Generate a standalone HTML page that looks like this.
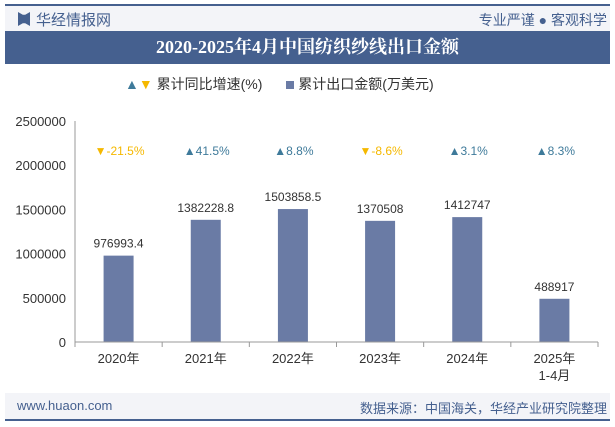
<!DOCTYPE html>
<html><head><meta charset="utf-8"><style>
body{margin:0;width:615px;height:427px;background:#fff;font-family:"Liberation Sans","Noto Sans CJK SC",sans-serif;position:relative;overflow:hidden}
.abs{position:absolute}
</style></head><body>
<div class="abs" style="left:5px;top:4px;width:605px;height:2px;background:#45608f"></div>
<div class="abs" style="left:5px;top:6px;width:605px;height:25px;background:#f3f4f8"></div>
<div class="abs" style="left:18px;top:12px;width:12px;height:14px;background:#45608f;clip-path:polygon(0 0,40% 20%,60% 20%,100% 0,100% 100%,60% 80%,40% 80%,0 100%)"></div>
<div class="abs" style="left:36px;top:9px;font-size:15px;color:#45608f">华经情报网</div>
<div class="abs" style="right:8px;top:10px;font-size:14px;color:#45608f">专业严谨 ● 客观科学</div>
<div class="abs" style="left:5px;top:31px;width:605px;height:33px;background:#45608f;color:#fff;font-family:'Liberation Serif','Noto Serif CJK SC',serif;font-weight:bold;font-size:18px;line-height:33px;text-align:center">2020-2025年4月中国纺织纱线出口金额</div>
<div class="abs" style="left:125px;top:74px;font-size:14px;color:#333;white-space:nowrap">
<span><span style="color:#3e7a9a;font-size:14px">▲</span><span style="color:#f5b800;font-size:14px">▼</span> 累计同比增速(%)</span>
<span style="margin-left:20px"><span style="display:inline-block;width:8px;height:8px;background:#6a7ba5;margin-right:4px"></span>累计出口金额(万美元)</span>
</div>
<svg class="abs" style="left:0;top:0" width="615" height="427">
<g id="yax"></g><g id="bars"></g><g id="xax"></g>
</svg>
<div class="abs" style="left:5px;top:393px;width:605px;height:26px;background:#f3f4f8"></div>
<div class="abs" style="left:5px;top:419px;width:605px;height:2px;background:#45608f"></div>
<div class="abs" style="left:17px;top:398px;font-size:13px;color:#45608f">www.huaon.com</div>
<div class="abs" style="right:8px;top:398px;font-size:13px;color:#45608f">数据来源：中国海关，华经产业研究院整理</div>
<script>
const categories=["2020年","2021年","2022年","2023年","2024年","2025年\n1-4月"];
const amounts=[976993.4,1382228.8,1503858.5,1370508,1412747,488917];
const amountLabels=["976993.4","1382228.8","1503858.5","1370508","1412747","488917"];
const growth=[-21.5,41.5,8.8,-8.6,3.1,8.3];
const yTicks=[0,500000,1000000,1500000,2000000,2500000];
const NS="http://www.w3.org/2000/svg";
const x0=75,x1=598,yb=342,yt=121,ymax=2500000;
const band=(x1-x0)/categories.length;
const xc=i=>x0+band*(i+0.5);
const y=v=>yb-(v/ymax)*(yb-yt);
function mk(t,a,p){const e=document.createElementNS(NS,t);for(const k in a)e.setAttribute(k,a[k]);p.appendChild(e);return e;}
const yax=document.getElementById('yax'),bars=document.getElementById('bars'),xax=document.getElementById('xax');
yTicks.forEach(v=>{const t=mk('text',{x:66,y:y(v)+5,'text-anchor':'end','font-size':13,fill:'#333'},yax);t.textContent=v;

});
mk('line',{x1:x0,x2:x0,y1:yt,y2:yb,stroke:'#999'},yax);
mk('line',{x1:x0,x2:x1,y1:yb,y2:yb,stroke:'#999'},xax);
categories.forEach((c,i)=>{
 mk('line',{x1:x0+band*i,x2:x0+band*i,y1:yb,y2:yb+5,stroke:'#999'},xax);
 c.split("\n").forEach((s,j)=>{const t=mk('text',{x:xc(i),y:yb+21+j*17,'text-anchor':'middle','font-size':13,fill:'#333'},xax);t.textContent=s;
 
 });
 const r=mk('rect',{x:xc(i)-15,y:y(amounts[i]),width:30,height:yb-y(amounts[i]),fill:'#6a7ba5'},bars);
 
 
 const l=mk('text',{x:xc(i),y:y(amounts[i])-8,'text-anchor':'middle','font-size':12,fill:'#333'},bars);l.textContent=amountLabels[i];
 
 
 const up=growth[i]>=0;
 const g=mk('text',{x:xc(i)+1,y:155,'text-anchor':'middle','font-size':12,fill:up?'#3e7a9a':'#f5b800'},bars);
 g.textContent=(up?'▲':'▼')+growth[i]+'%';
 
 
});
mk('line',{x1:x1,x2:x1,y1:yb,y2:yb+5,stroke:'#999'},xax);
</script>
</body></html>
